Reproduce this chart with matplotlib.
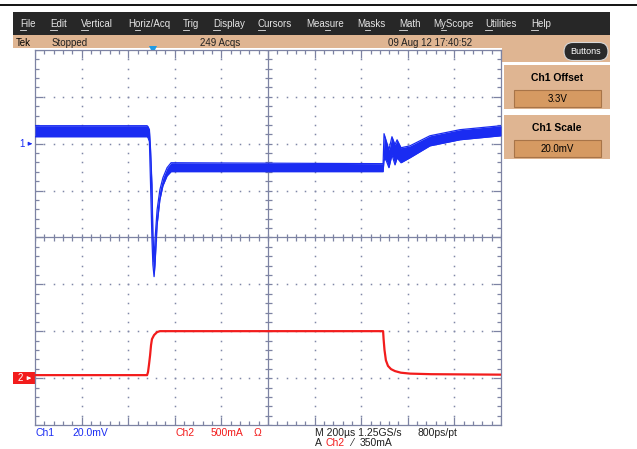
import numpy as np
import matplotlib
matplotlib.use('Agg')
import matplotlib.pyplot as plt
from matplotlib import patches
from matplotlib.collections import LineCollection

# --- waveform data, time in us from left edge of the screen (200 us/div) ---
t1_us = [0, 481, 485, 491, 496, 502, 506, 511, 515, 524, 536, 549, 567, 584,
         1494, 1498, 1506, 1519, 1532, 1545, 1554, 1571, 1609, 1695, 1824, 2000]
# Ch1 envelope (persistence band), mV about the 3.3 V offset
ch1_hi_mv = [7.7, 7.7, 7.3, 6.0, -2.6, -17.5, -38.8, -50.3, -41.0, -28.2, -19.6, -14.5, -10.2, -8.1,
             -8.5, 4.3, 1.7, -2.6, 3.0, -0.4, 1.7, -1.7, -0.9, 3.4, 6.0, 7.7]
ch1_lo_mv = [3.0, 3.0, 2.6, 0.9, -17.5, -41.0, -51.6, -56.7, -51.6, -34.6, -23.9, -17.9, -13.7, -11.9,
             -11.9, -6.8, -6.8, -10.2, -4.7, -9.0, -6.0, -8.1, -6.0, -0.9, 1.7, 3.4]

t2_us = [0, 481, 485, 489, 494, 498, 502, 511, 524, 536,
         1494, 1496, 1500, 1506, 1515, 1528, 1545, 1570, 1610, 1700, 2000]
ch2_ma = [32, 32, 64, 139, 245, 352, 416, 459, 491, 501,
          501, 420, 300, 190, 130, 96, 75, 58, 48, 42, 37]

# channel settings
ch1_scale_mv, ch1_pos_div = 20, 2
ch2_scale_ma, ch2_pos_div = 500, -3
trig_us = 505
trig_level_ma = 350

menu_items = ['File', 'Edit', 'Vertical', 'Horiz/Acq', 'Trig', 'Display', 'Cursors',
              'Measure', 'Masks', 'Math', 'MyScope', 'Utilities', 'Help']
menu_x = [20, 50, 81, 128, 183, 213, 258, 306, 357, 399, 433, 485, 531]
menu_key = [0, 0, 0, 1, 0, 0, 0, 3, 1, 0, 1, 0, 0]   # underlined letter

W, H = 637, 449
blue = '#1a2cf2'
red = '#f21c1c'
tan = '#dfb592'
gcol = '#7d83a3'
font = ['Liberation Sans', 'DejaVu Sans']

fig = plt.figure(figsize=(W / 100, H / 100), dpi=100)
bg = fig.add_axes([0, 0, 1, 1])
bg.set_xlim(0, W)
bg.set_ylim(H, 0)
bg.axis('off')
renderer = fig.canvas.get_renderer()
to_bg = bg.transData.inverted()


def text_w(s, **kw):
    t = bg.text(0, 0, s, **kw)
    bb = t.get_window_extent(renderer)
    t.remove()
    return bb.width


# window chrome
bg.plot([0, W], [5, 5], color='black', lw=1.3)
bg.add_patch(patches.Rectangle((13, 12), 597, 23, fc='#272727', ec='none'))
bg.add_patch(patches.Rectangle((13, 35), 597, 13, fc=tan, ec='none'))
bg.add_patch(patches.Rectangle((502, 35), 108, 27, fc=tan, ec='none'))
mkw = dict(fontsize=7, family=font)
for x, name, k in zip(menu_x, menu_items, menu_key):
    bg.text(x, 24, name, color='#e6e6e6', va='center', **mkw)
    x0 = x + text_w(name[:k], **mkw) if k else x
    x1 = x + text_w(name[:k + 1], **mkw)
    bg.plot([x0, x1], [29.5, 29.5], color='#e6e6e6', lw=0.6)

bg.text(16, 43, 'Tek', fontsize=7, va='center', family=font)
bg.text(52, 43, 'Stopped', fontsize=7, va='center', family=font, color='#202020')
bg.text(200, 43, '249 Acqs', fontsize=7, va='center', family=font, color='#202020')
bg.text(388, 43, '09 Aug 12 17:40:52', fontsize=7, va='center', family=font, color='#202020')

bg.add_patch(patches.FancyBboxPatch((564, 42.5), 44, 18, boxstyle='round,pad=0,rounding_size=9',
                                    fc='#2a2a2a', ec='#d8d8d8', lw=0.8))
bg.text(586, 51.5, 'Buttons', color='white', fontsize=6.5, ha='center', va='center', family=font)

for (py, title, val) in [(65, 'Ch1 Offset', '3.3V'), (115, 'Ch1 Scale', '20.0mV')]:
    bg.add_patch(patches.Rectangle((504, py), 106, 44, fc=tan, ec='none'))
    bg.text(557, py + 13, title, fontsize=7.5, weight='bold', ha='center', va='center', family=font)
    bg.add_patch(patches.Rectangle((514, py + 25), 87, 17, fc='#d69a62', ec='#a87448', lw=0.8))
    bg.text(557.5, py + 33.5, val, fontsize=7, ha='center', va='center', family=font)

# graticule
grat = fig.add_axes([35 / W, (H - 425) / H, 466 / W, 375 / H])
grat.set_xlim(0, 2000)
grat.set_ylim(-4, 4)
grat.set_xticks([])
grat.set_yticks([])
for s in grat.spines.values():
    s.set_color(gcol)
    s.set_linewidth(0.9)
ux = 2000 / 466.0
uy = 8 / 375.0
minor_x = np.arange(0, 2000.1, 40)
minor_y = np.round(np.arange(-4, 4.01, 0.2), 2)
segs = []
for x in minor_x:
    L = 8 if x % 200 == 0 else 4
    segs.append([(x, 4), (x, 4 - L * uy)])
    segs.append([(x, -4), (x, -4 + L * uy)])
    segs.append([(x, -3.5 * uy), (x, 3.5 * uy)])
for y in minor_y:
    L = 8 if abs(y - round(y)) < 1e-6 else 4
    segs.append([(0, y), (L * ux, y)])
    segs.append([(2000, y), (2000 - L * ux, y)])
    segs.append([(1000 - 3.5 * ux, y), (1000 + 3.5 * ux, y)])
grat.add_collection(LineCollection(segs, colors=gcol, linewidths=0.9))
grat.axhline(0, color=gcol, lw=0.9)
grat.axvline(1000, color=gcol, lw=0.9)
for y in [-3, -2, -1, 1, 2, 3]:
    grat.plot(minor_x, np.full(len(minor_x), y), ls='none', marker='s', ms=1.1, mew=0, color='#8088a8')
for x in [200, 400, 600, 800, 1200, 1400, 1600, 1800]:
    grat.plot(np.full(len(minor_y), x), minor_y, ls='none', marker='s', ms=1.1, mew=0, color='#8088a8')

# channel axes
ax1 = grat.twinx()
ax1.set_ylim((-4 - ch1_pos_div) * ch1_scale_mv, (4 - ch1_pos_div) * ch1_scale_mv)
ax1.axis('off')
ax2 = grat.twinx()
ax2.set_ylim((-4 - ch2_pos_div) * ch2_scale_ma, (4 - ch2_pos_div) * ch2_scale_ma)
ax2.axis('off')

ax1.fill_between(t1_us, ch1_lo_mv, ch1_hi_mv, color=blue, lw=0)
ax1.plot(t1_us, ch1_hi_mv, color=blue, lw=0.9)
ax1.plot(t1_us, ch1_lo_mv, color=blue, lw=0.9)
ax2.plot(t2_us, ch2_ma, color=red, lw=1.6)

# markers
y1 = to_bg.transform(ax1.transData.transform((0, 0)))[1]
y2 = to_bg.transform(ax2.transData.transform((0, 0)))[1]
yt = to_bg.transform(ax2.transData.transform((0, trig_level_ma)))[1]
xt = to_bg.transform(grat.transData.transform((trig_us, 0)))[0]

bg.text(25, y1, '1', color=blue, fontsize=7, ha='right', va='center', family=font)
bg.annotate('', xy=(35, y1), xytext=(27, y1),
            arrowprops=dict(arrowstyle='-|>', color=blue, lw=0.8, mutation_scale=5))
bg.add_patch(patches.Rectangle((13, y2 - 6), 22, 12, fc=red, ec='none'))
bg.text(20, y2, '2', color='white', fontsize=7, ha='center', va='center', family=font)
bg.annotate('', xy=(34, y2), xytext=(26, y2),
            arrowprops=dict(arrowstyle='-|>', color='white', lw=0.8, mutation_scale=5))
bg.annotate('', xy=(488, yt), xytext=(498, yt),
            arrowprops=dict(arrowstyle='-|>', color=red, lw=0.9, mutation_scale=6))
bg.plot(xt, 50, marker='v', color='#1e9be6', ms=6, mew=0)

# readouts
rkw = dict(fontsize=7.5, va='center', family=font)
bg.text(35, 433, 'Ch1', color=blue, **rkw)
bg.text(72, 433, '20.0mV', color=blue, **rkw)
bg.text(176, 433, 'Ch2', color=red, **rkw)
bg.text(211, 433, '500mA', color=red, **rkw)
bg.text(254, 433, 'Ω', color=red, **rkw)
bg.text(315, 433, 'M 200µs 1.25GS/s', color='#202020', **rkw)
bg.text(417, 433, '800ps/pt', color='#202020', **rkw)
bg.text(315, 442.5, 'A', color='#202020', **rkw)
bg.text(326, 442.5, 'Ch2', color=red, **rkw)
bg.text(351, 442.5, '⁄', color='#202020', **rkw)
bg.text(360, 442.5, '350mA', color='#202020', **rkw)

fig.savefig('out.png', dpi=100)
